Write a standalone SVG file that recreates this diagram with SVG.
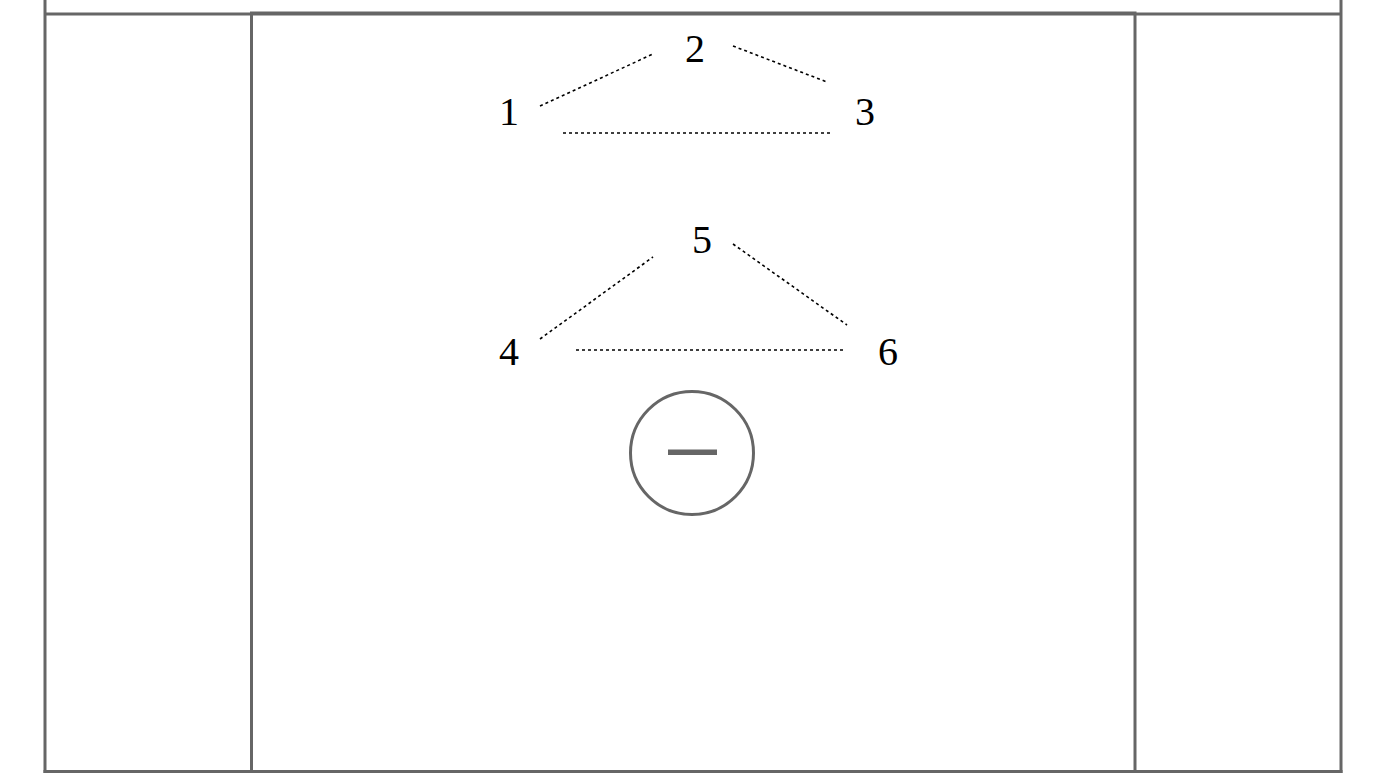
<svg xmlns="http://www.w3.org/2000/svg" width="1389" height="781" viewBox="0 0 1389 781">
<style>
.frame{fill:none;stroke:#666;stroke-width:3}
.lbl{font-family:"Liberation Serif",serif;font-size:40px;fill:#000;text-anchor:middle}
.dash{stroke:#000;stroke-width:1.6;stroke-dasharray:3 3;fill:none}
</style>
<rect width="1389" height="781" fill="#fff"/>
<g id="frame">
<line class="frame" x1="45" y1="0" x2="45" y2="773"/>
<line class="frame" x1="1341" y1="0" x2="1341" y2="773"/>
<line class="frame" x1="45" y1="14" x2="1341" y2="14"/>
<line class="frame" x1="43.5" y1="771.5" x2="1342.5" y2="771.5" stroke-width="4"/>
<rect class="frame" x="251.5" y="13" width="883.5" height="758.5"/>
</g>
<g id="connectors">
<line class="dash" x1="540" y1="106" x2="653" y2="54"/>
<line class="dash" x1="733" y1="46" x2="827" y2="82"/>
<line class="dash" x1="563" y1="133" x2="831" y2="133"/>
<line class="dash" x1="540" y1="339" x2="653" y2="257"/>
<line class="dash" x1="733" y1="244" x2="847" y2="325"/>
<line class="dash" x1="576" y1="350" x2="843" y2="350"/>
</g>
<g id="n1"><text class="lbl" x="509" y="125">1</text></g>
<g id="n2"><text class="lbl" x="695" y="62">2</text></g>
<g id="n3"><text class="lbl" x="865" y="125">3</text></g>
<g id="n4"><text class="lbl" x="509" y="365">4</text></g>
<g id="n5"><text class="lbl" x="702" y="253">5</text></g>
<g id="n6"><text class="lbl" x="888" y="365">6</text></g>
<g id="minus">
<circle cx="692" cy="453" r="61.5" fill="none" stroke="#666" stroke-width="3"/>
<rect x="668" y="449.5" width="49" height="5.5" fill="#666"/>
</g>
</svg>
